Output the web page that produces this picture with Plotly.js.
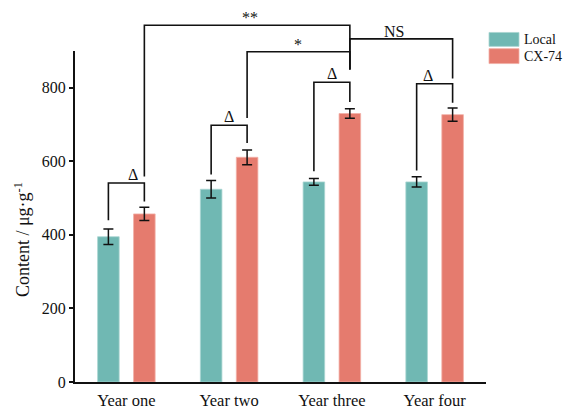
<!DOCTYPE html>
<html>
<head>
<meta charset="utf-8">
<script src="https://cdn.plot.ly/plotly-3.0.1.min.js"></script>
<style>html,body{margin:0;padding:0;background:#fff;}#chart{width:563px;height:410px;}</style>
</head>
<body>
<div id="chart"></div>
<script>
// ---- data ----
const categories = ["Year one", "Year two", "Year three", "Year four"];
const seriesNames = ["Local", "CX-74"];
const localValues = [395, 524, 544, 544];
const localErrors = [21, 24, 9, 14];
const cxValues = [457, 611, 730, 727];
const cxErrors = [18, 20, 13, 18];
const yTicks = [0, 200, 400, 600, 800];
const yTitle = "Content / μg·g<sup>-1</sup>";

// Within-year comparison brackets (Local vs CX-74), Δ
const deltaLabels = ["Δ", "Δ", "Δ", "Δ"];
const deltaTop = [541, 698, 815, 811];
const deltaLeftEnd = [440, 564, 573, 575];
const deltaRightEnd = [491, 650, 761, 759];

// Between-year comparison brackets (CX-74), from a year to year three
const compFrom = [0, 1, 3];
const compTo = [2, 2, 2];
const compLabels = ["**", "*", "NS"];
const compLevel = [970, 898, 933];
const compFromEnd = [559, 718, 825];
const compToEnd = [850, 850, 850];

const teal = "#70b8b3";
const salmon = "#e57b6e";
const barW = 0.21;
const offL = -0.28, offC = 0.07;
const xRange = [-0.5, 3.5];
const yRange = [0, 900];
const xL = i => i + offL + barW / 2;
const xC = i => i + offC + barW / 2;
// data -> paper (so marks above the axis top are not clipped)
const px = v => (v - xRange[0]) / (xRange[1] - xRange[0]);
const py = v => (v - yRange[0]) / (yRange[1] - yRange[0]);

const idx = categories.map((_, i) => i);

const traces = [
  {
    type: "bar", name: seriesNames[0], x: idx, y: localValues,
    width: barW, offset: offL,
    marker: {color: teal, line: {color: "#a9d6d2", width: 0.8}},
    error_y: {type: "data", array: localErrors, visible: true, color: "#111", thickness: 1.5, width: 5},
    showlegend: false, hoverinfo: "skip"
  },
  {
    type: "bar", name: seriesNames[1], x: idx, y: cxValues,
    width: barW, offset: offC,
    marker: {color: salmon, line: {color: "#f2b0a7", width: 0.8}},
    error_y: {type: "data", array: cxErrors, visible: true, color: "#111", thickness: 1.5, width: 5},
    showlegend: false, hoverinfo: "skip"
  }
];

const lineStyle = {color: "#111", width: 1.6};
const shapes = [];
const annotations = [];
const family = "Liberation Serif, Times New Roman, serif";
const font = {family: family, size: 16, color: "#111"};
const markFont = {family: family, size: 16, color: "#111"};

function bracketPath(x1, y1end, x2, y2end, top) {
  return `M ${px(x1)},${py(y1end)} L ${px(x1)},${py(top)} L ${px(x2)},${py(top)} L ${px(x2)},${py(y2end)}`;
}

idx.forEach(i => {
  shapes.push({type: "path", xref: "paper", yref: "paper", line: lineStyle,
    path: bracketPath(xL(i), deltaLeftEnd[i], xC(i), deltaRightEnd[i], deltaTop[i])});
  annotations.push({x: px(i), y: py(deltaTop[i]), xref: "paper", yref: "paper", text: deltaLabels[i], showarrow: false,
    yanchor: "bottom", yshift: -2, font: markFont});
});

const compShift = [3, 0, 5];
compFrom.forEach((f, k) => {
  const t = compTo[k];
  shapes.push({type: "path", xref: "paper", yref: "paper", line: lineStyle,
    path: bracketPath(xC(f), compFromEnd[k], xC(t), compToEnd[k], compLevel[k])});
  annotations.push({x: px((xC(f) + xC(t)) / 2), y: py(compLevel[k]), xref: "paper", yref: "paper", text: compLabels[k],
    showarrow: false, yanchor: "bottom", yshift: -3, xshift: compShift[k], font: markFont});
});

// custom legend (large swatches like the reference)
const legendColors = [teal, salmon];
const swatchY = [[1.014, 1.056], [0.962, 1.007]];
const labelY = [1.036, 0.983];
seriesNames.forEach((n, k) => {
  shapes.push({type: "rect", xref: "paper", yref: "paper", x0: 1.0073, x1: 1.0803, y0: swatchY[k][0], y1: swatchY[k][1],
    fillcolor: legendColors[k], line: {color: k ? "#f2b0a7" : "#a9d6d2", width: 0.8}});
  annotations.push({xref: "paper", yref: "paper", x: 1.088, y: labelY[k], text: n, showarrow: false,
    xanchor: "left", yanchor: "middle", font: {family: family, size: 14, color: "#111"}});
});

// y axis title, placed like the reference (slightly below the plot centre)
annotations.push({xref: "paper", yref: "paper", x: -0.128, y: 0.43, text: yTitle, textangle: -90,
  showarrow: false, xanchor: "center", yanchor: "middle", font: {family: family, size: 18, color: "#111"}});

const layout = {
  width: 563, height: 410,
  margin: {l: 75, r: 77, t: 51, b: 28},
  paper_bgcolor: "#fff", plot_bgcolor: "#fff",
  font: font,
  showlegend: false,
  bargap: 0,
  xaxis: {
    range: xRange, tickvals: idx, ticktext: categories,
    showline: true, linecolor: "#111", linewidth: 2, ticks: "", showgrid: false, zeroline: false,
    tickfont: {family: family, size: 16.5, color: "#111"}, ticklabelstandoff: 2, fixedrange: true
  },
  yaxis: {
    range: yRange, tickvals: yTicks, showline: true, linecolor: "#111", linewidth: 2,
    ticks: "outside", ticklen: 4, tickwidth: 2, tickcolor: "#111", showgrid: false, zeroline: false,
    tickfont: {family: family, size: 16, color: "#111"},
    fixedrange: true
  },
  shapes: shapes,
  annotations: annotations
};

Plotly.newPlot("chart", traces, layout, {displayModeBar: false, staticPlot: true});
</script>
</body>
</html>
